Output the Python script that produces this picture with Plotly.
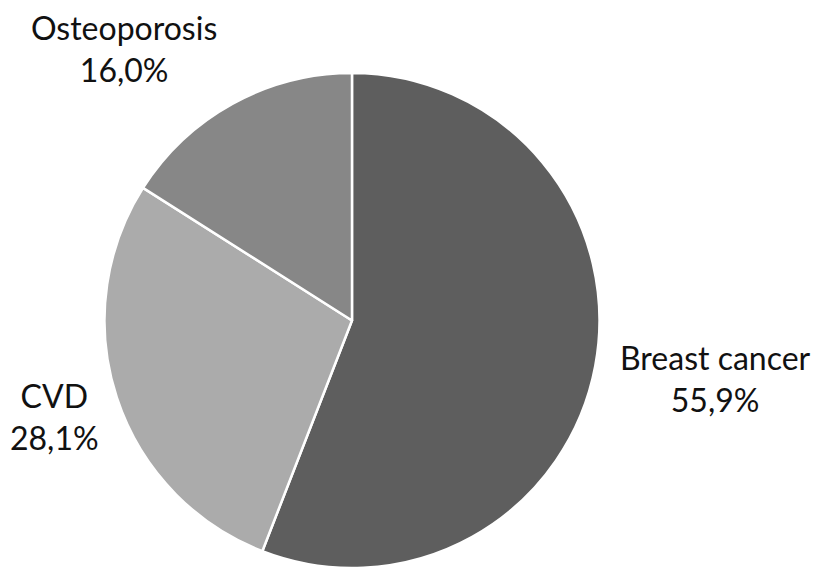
import plotly.graph_objects as go

# Pie data (clockwise from 12 o'clock)
labels = ["Breast cancer", "CVD", "Osteoporosis"]
values = [55.9, 28.1, 16.0]
colors = ["#5e5e5e", "#ababab", "#878787"]

# where each label block sits (paper coords, anchor)
label_pos = {
    "Breast cancer": (0.856, 0.353, "center"),
    "CVD": (0.0, 0.285, "left"),
    "Osteoporosis": (0.140, 0.930, "center"),
}

fig = go.Figure(go.Pie(
    labels=labels,
    values=values,
    sort=False,
    direction="clockwise",
    rotation=0,
    marker=dict(colors=colors, line=dict(color="white", width=2.5)),
    textinfo="none",
    hoverinfo="label+percent",
    showlegend=False,
    domain=dict(x=[0.1162, 0.7167], y=[0.021, 0.8864]),
))

for lab, val in zip(labels, values):
    x, y, anc = label_pos[lab]
    txt = f"{lab}<br>{val:.1f}%".replace(".", ",")
    fig.add_annotation(x=x, y=y, xref="paper", yref="paper", text=txt,
                       showarrow=False, xanchor=anc, yanchor="middle",
                       align="center",
                       font=dict(family="Lato", size=32, color="#111111"))

fig.update_layout(
    width=826, height=572,
    margin=dict(l=0, r=0, t=0, b=0),
    paper_bgcolor="white",
    plot_bgcolor="white",
)

fig.write_html("out.html")
